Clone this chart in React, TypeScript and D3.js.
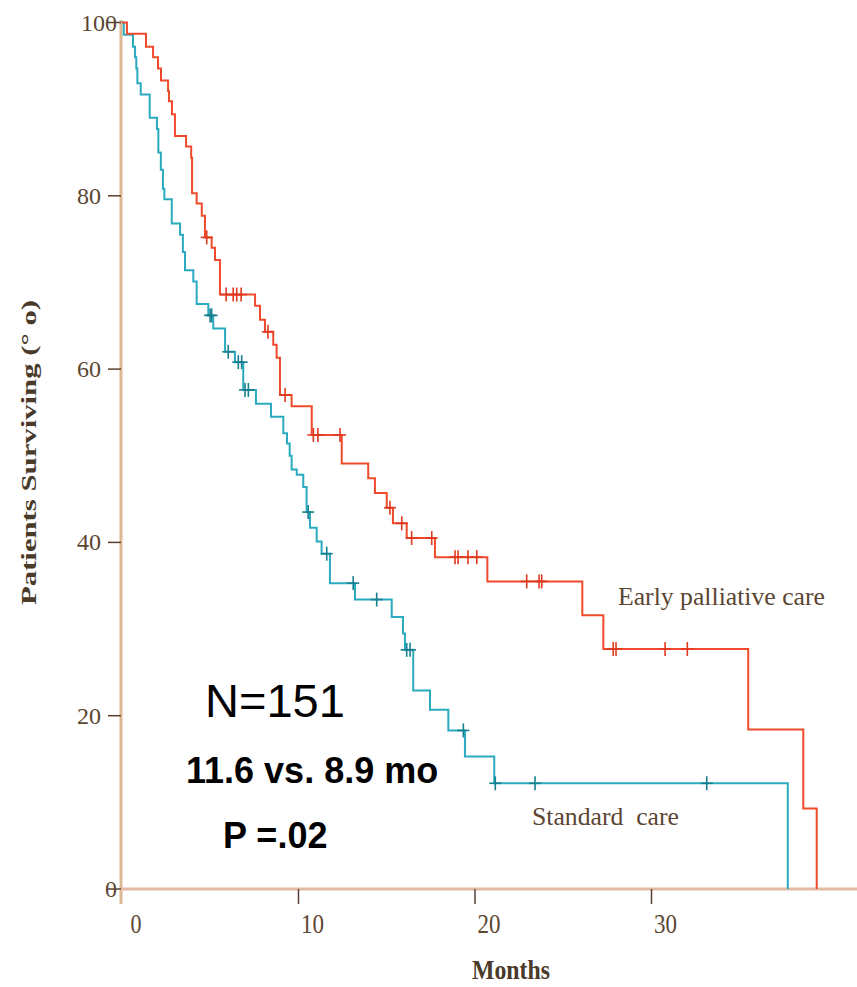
import * as d3 from "d3";

const earlyTimes = [0, 0.28, 1.36, 1.76, 2.04, 2.21, 2.61, 2.66, 2.83, 3.0, 3.63, 3.92, 3.97, 4.23, 4.52, 4.7, 5.08, 5.27, 5.55, 7.54, 7.82, 8.1, 8.57, 8.76, 8.95, 9.61, 10.75, 12.45, 13.95, 14.33, 15.0, 15.35, 16.13, 17.73, 20.7, 26.08, 27.27, 35.48, 38.6, 39.36];
const earlySurv = [100, 98.7, 97.2, 96.0, 94.7, 93.3, 92.1, 90.9, 89.4, 86.9, 85.7, 84.4, 80.3, 79.1, 77.7, 75.2, 74.0, 72.6, 68.6, 67.3, 65.7, 64.3, 62.8, 61.3, 57.0, 55.7, 52.4, 49.1, 47.4, 45.7, 44.0, 42.2, 40.5, 38.3, 35.5, 31.6, 27.7, 18.4, 9.3, 0];
const earlyCensored = [4.8, 5.9, 6.3, 6.5, 6.75, 8.27, 9.24, 10.84, 11.1, 12.35, 15.18, 15.85, 16.41, 17.55, 18.87, 19.04, 19.6, 20.1, 22.93, 23.63, 23.78, 27.83, 27.99, 30.77, 32.03];

const standardTimes = [0, 0.1, 0.62, 0.74, 0.81, 0.87, 1.06, 1.57, 1.98, 2.06, 2.2, 2.32, 2.4, 2.82, 3.29, 3.45, 3.57, 4.04, 4.23, 4.89, 5.17, 5.84, 6.4, 6.87, 7.59, 8.44, 9.14, 9.35, 9.5, 9.61, 9.9, 10.27, 10.46, 10.65, 11.03, 11.31, 11.78, 13.2, 15.28, 15.92, 16.03, 16.5, 17.45, 18.49, 19.43, 21.09, 37.72];
const standardSurv = [100, 98.6, 97.2, 96.0, 94.7, 93.0, 91.7, 89.0, 87.7, 85.0, 83.0, 80.8, 79.6, 76.8, 75.5, 73.5, 71.4, 70.1, 67.5, 66.2, 64.7, 62.0, 60.8, 57.6, 56.0, 54.5, 52.6, 51.4, 50.0, 48.4, 47.8, 46.4, 43.5, 41.7, 40.1, 38.7, 35.3, 33.4, 31.4, 29.5, 27.6, 22.9, 20.7, 18.3, 15.3, 12.2, 0];
const standardCensored = [4.99, 5.08, 6.02, 6.59, 6.78, 6.97, 7.16, 10.55, 11.6, 13.1, 14.43, 16.13, 16.32, 19.34, 21.15, 23.4, 33.13];

const xTicks = [0, 10, 20, 30];
const yTicks = [0, 20, 40, 60, 80, 100];

const W = 857;
const H = 987;
const serif = "'Liberation Serif', 'DejaVu Serif', serif";
const sans = "'Liberation Sans', Arial, sans-serif";
const labelColor = "#5b4632";

const x = d3.scaleLinear().domain([0, 41.6]).range([122, 122 + 41.6 * 17.65]);
const y = d3.scaleLinear().domain([0, 100]).range([889, 22.5]);

const survAt = (times, surv, t) => {
  let v = surv[0];
  for (let i = 0; i < times.length; i++) if (times[i] <= t) v = surv[i];
  return v;
};

const line = d3
  .line()
  .x((d) => x(d[0]))
  .y((d) => y(d[1]))
  .curve(d3.curveStepAfter);

const Curve = ({ times, surv, censored, color, markColor }) => {
  const pts = times.map((t, i) => [t, surv[i]]);
  return (
    <g>
      <path d={line(pts)} fill="none" stroke={color} strokeWidth={2} />
      {censored.map((t, i) => {
        const cx = x(t);
        const cy = y(survAt(times, surv, t));
        return (
          <g key={i} stroke={markColor} strokeWidth={1.6}>
            <line x1={cx} x2={cx} y1={cy - 7} y2={cy + 7} />
            <line x1={cx - 6} x2={cx + 6} y1={cy} y2={cy} />
          </g>
        );
      })}
    </g>
  );
};

export default function App() {
  return (
    <svg
      width={W}
      height={H}
      style={{ position: "absolute", left: 0, top: 0, background: "#fff" }}
    >
      {/* axes */}
      <line x1={121} x2={121} y1={20} y2={904} stroke="#dcb894" strokeWidth={3} />
      <line x1={121} x2={857} y1={889} y2={889} stroke="#e2b9a3" strokeWidth={3} />

      {yTicks.map((v) => (
        <g key={"y" + v}>
          <line x1={108} x2={121} y1={y(v)} y2={y(v)} stroke="#5a4030" strokeWidth={1.5} />
          <text
            x={v === 0 || v === 100 ? 117 : 101}
            y={y(v) + 8}
            textAnchor="end"
            fontFamily={serif}
            fontSize={24}
            fill={labelColor}
          >
            {v}
          </text>
        </g>
      ))}

      {xTicks.map((v) => (
        <g key={"x" + v}>
          {v > 0 && (
            <line x1={x(v)} x2={x(v)} y1={889} y2={904} stroke="#5a4030" strokeWidth={1.5} />
          )}
          <text
            x={x(v) + 14}
            y={933}
            textAnchor="middle"
            fontFamily={serif}
            fontSize={28}
            fill={labelColor}
            textLength={v < 10 ? 11 : 23}
            lengthAdjust="spacingAndGlyphs"
          >
            {v}
          </text>
        </g>
      ))}

      <text
        x={472}
        y={979}
        fontFamily={serif}
        fontWeight="bold"
        fontSize={27}
        fill="#4a3a2a"
        textLength={78}
        lengthAdjust="spacingAndGlyphs"
      >
        Months
      </text>
      <text
        transform="translate(36,605) rotate(-90)"
        fontFamily={serif}
        fontWeight="bold"
        fontSize={22}
        fill="#4a3a2a"
        textLength={305}
        lengthAdjust="spacingAndGlyphs"
      >
        Patients Surviving (° o)
      </text>

      <Curve
        times={standardTimes}
        surv={standardSurv}
        censored={standardCensored}
        color="#2aaabf"
        markColor="#167f90"
      />
      <Curve
        times={earlyTimes}
        surv={earlySurv}
        censored={earlyCensored}
        color="#ef4a2c"
        markColor="#e0391f"
      />

      <text
        x={618}
        y={605}
        fontFamily={serif}
        fontSize={26}
        fill={labelColor}
        textLength={207}
        lengthAdjust="spacingAndGlyphs"
      >
        Early palliative care
      </text>
      <text
        x={532}
        y={825}
        fontFamily={serif}
        fontSize={26}
        fill={labelColor}
        textLength={147}
        lengthAdjust="spacingAndGlyphs"
        style={{ whiteSpace: "pre" }}
      >
        {"Standard  care"}
      </text>

      <text x={205} y={717} fontFamily={sans} fontSize={47} fill="#000">
        N=151
      </text>
      <text x={186} y={783} fontFamily={sans} fontWeight="bold" fontSize={36} fill="#000">
        11.6 vs. 8.9 mo
      </text>
      <text x={223} y={848} fontFamily={sans} fontWeight="bold" fontSize={36} fill="#000">
        P =.02
      </text>
    </svg>
  );
}
